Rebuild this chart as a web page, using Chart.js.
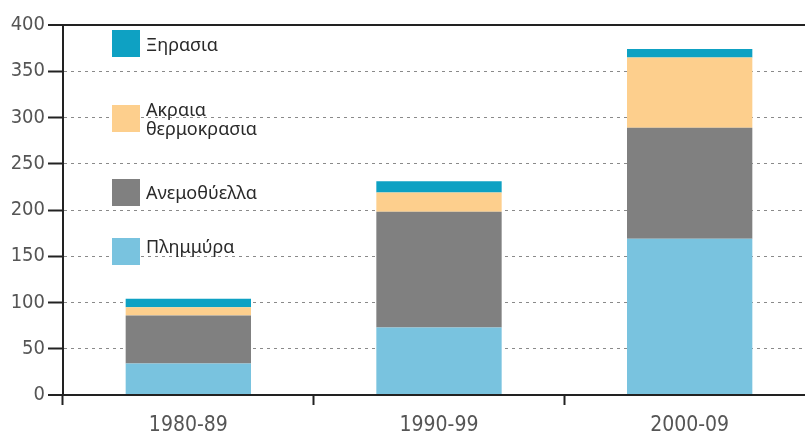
<!DOCTYPE html>
<html>
<head>
<meta charset="utf-8">
<script src="https://cdn.jsdelivr.net/npm/chart.js@4"></script>
<style>
  html, body { margin: 0; padding: 0; background: #fff; overflow: hidden; width: 805px; height: 436px; }
  #wrap { position: absolute; left: 0; top: 0; width: 815px; height: 436px; }
</style>
</head>
<body>
<div id="wrap"><canvas id="c" width="815" height="436"></canvas></div>
<script>
// ---- data ----
const categories = ['1980-89', '1990-99', '2000-09'];
const flood   = [34, 73, 169];   // Πλημμύρα
const storm   = [52, 125, 120];  // Ανεμοθύελλα
const heat    = [9, 21, 76];     // Ακραια θερμοκρασια
const drought = [9, 12, 9];      // Ξηρασια
const seriesNames = ['Πλημμύρα', 'Ανεμοθύελλα', 'Ακραια θερμοκρασια', 'Ξηρασια'];
const yMin = 0, yMax = 400, yStep = 50;

const colors = ['#79c3df', '#808080', '#fdcf8d', '#0ea1c3'];

// custom legend (drawn top-to-bottom: drought, heat, storm, flood)
const legendPlugin = {
  id: 'customLegend',
  afterDraw(chart) {
    const ctx = chart.ctx;
    const layout = [
      { idx: 3, boxTop: 30,  lines: ['Ξηρασια'], base: [51] },
      { idx: 2, boxTop: 105, lines: ['Ακραια', 'θερμοκρασια'], base: [116, 135] },
      { idx: 1, boxTop: 179, lines: ['Ανεμοθύελλα'], base: [199] },
      { idx: 0, boxTop: 238, lines: ['Πλημμύρα'], base: [253] }
    ];
    ctx.save();
    layout.forEach(item => {
      const ds = chart.data.datasets[item.idx];
      ctx.fillStyle = ds.backgroundColor;
      ctx.fillRect(112, item.boxTop, 28, 27);
      ctx.fillStyle = '#2a2a2a';
      ctx.font = '18px "Noto Sans", sans-serif';
      ctx.textBaseline = 'alphabetic';
      ctx.textAlign = 'left';
      item.lines.forEach((t, i) => ctx.fillText(t, 146, item.base[i]));
    });
    ctx.restore();
  }
};

const datasets = [flood, storm, heat, drought].map((d, i) => ({
  label: seriesNames[i],
  data: d,
  backgroundColor: colors[i],
  borderWidth: 0,
  barPercentage: 1.0,
  categoryPercentage: 0.5
}));

new Chart(document.getElementById('c'), {
  type: 'bar',
  data: { labels: categories, datasets },
  options: {
    responsive: false,
    animation: false,
    layout: { padding: { top: 25, right: 0, left: 0, bottom: 0 } },
    plugins: { legend: { display: false }, tooltip: { enabled: false } },
    scales: {
      x: {
        stacked: true,
        offset: true,
        grid: {
          offset: true,
          drawOnChartArea: false,
          drawTicks: true,
          tickLength: 10,
          tickColor: '#222',
          tickWidth: 2
        },
        border: { display: true, color: '#222', width: 2 },
        ticks: {
          color: '#555',
          font: { family: '"DejaVu Sans Condensed", "DejaVu Sans", sans-serif', size: 21 },
          padding: 8
        },
        afterFit(scale) { scale.height = 41; }
      },
      y: {
        stacked: true,
        min: yMin, max: yMax,
        ticks: {
          stepSize: yStep,
          color: '#555',
          font: { family: '"DejaVu Sans Condensed", "DejaVu Sans", sans-serif', size: 20 },
          padding: 3
        },
        grid: {
          color: c => (c.tick && (c.tick.value === yMax || c.tick.value === yMin)) ? '#222' : '#8a8a8a',
          lineWidth: c => (c.tick && (c.tick.value === yMax || c.tick.value === yMin)) ? 2 : 1,
          drawTicks: true,
          tickLength: 15,
          tickColor: '#222',
          tickWidth: 2
        },
        border: {
          display: true, color: '#222', width: 2,
          dash: c => (c.tick && (c.tick.value === yMax || c.tick.value === yMin)) ? [] : [3, 4]
        },
        afterFit(scale) { scale.width = 63; }
      }
    }
  },
  plugins: [legendPlugin]
});
</script>
</body>
</html>
